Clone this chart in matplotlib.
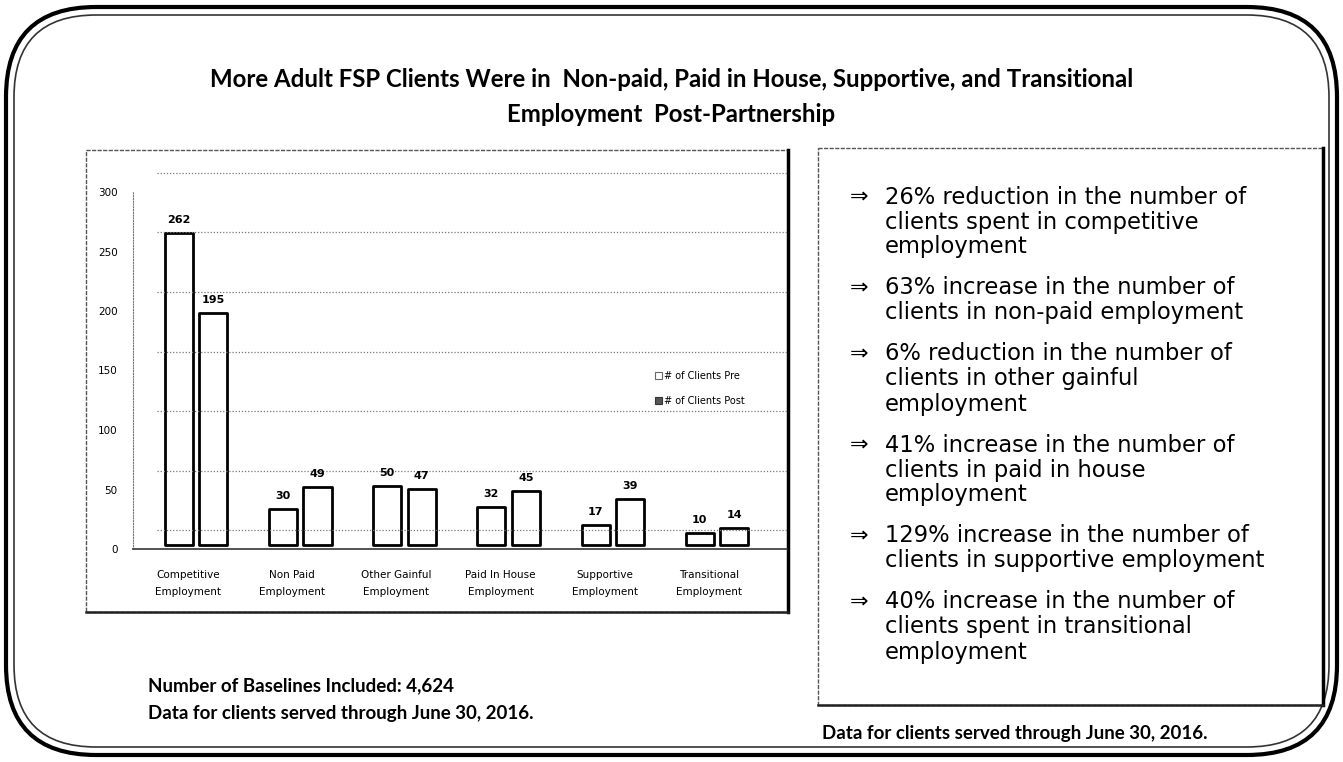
import matplotlib
matplotlib.use('Agg')
import matplotlib.pyplot as plt
from matplotlib.patches import FancyBboxPatch, Rectangle, Patch
from matplotlib.transforms import ScaledTranslation
import numpy as np

W, H = 1343, 762

# data
categories = ['Competitive\nEmployment', 'Non Paid\nEmployment', 'Other Gainful\nEmployment',
              'Paid In House\nEmployment', 'Supportive\nEmployment', 'Transitional\nEmployment']
clients_pre = [262, 30, 50, 32, 17, 10]
clients_post = [195, 49, 47, 45, 39, 14]
yticks = [0, 50, 100, 150, 200, 250, 300]

title = ('More Adult FSP Clients Were in  Non-paid, Paid in House, Supportive, and Transitional\n'
         'Employment  Post-Partnership')
bullets = [
    ['26% reduction in the number of', 'clients spent in competitive', 'employment'],
    ['63% increase in the number of', 'clients in non-paid employment'],
    ['6% reduction in the number of', 'clients in other gainful', 'employment'],
    ['41% increase in the number of', 'clients in paid in house', 'employment'],
    ['129% increase in the number of', 'clients in supportive employment'],
    ['40% increase in the number of', 'clients spent in transitional', 'employment'],
]
footer_left = ['Number of Baselines Included: 4,624', 'Data for clients served through June 30, 2016.']
footer_right = 'Data for clients served through June 30, 2016.'

fig = plt.figure(figsize=(W / 100, H / 100), dpi=100)

# background canvas in pixel coords
bg = fig.add_axes([0, 0, 1, 1])
bg.set_xlim(0, W)
bg.set_ylim(H, 0)
bg.axis('off')

# outer double rounded frame
bg.add_patch(FancyBboxPatch((6, 7), W - 12, H - 14, boxstyle='round,pad=0,rounding_size=90',
                            fill=False, lw=3, ec='black'))
bg.add_patch(FancyBboxPatch((14, 15), W - 28, H - 30, boxstyle='round,pad=0,rounding_size=82',
                            fill=False, lw=1.2, ec='#333333'))

bg.text(W / 2, 97, title, ha='center', va='center', fontsize=17.3, fontweight='bold',
        family='Lato', linespacing=1.6)

# chart box
bg.add_patch(Rectangle((86, 150), 702, 462, fill=False, lw=1.0, ec='#555555', ls=(0, (3, 1))))
bg.plot([788, 788], [150, 612], color='black', lw=2.5)
bg.plot([86, 788], [612, 612], color='#222222', lw=1.8)

# right text box
bg.add_patch(Rectangle((818, 148), 505, 557, fill=False, lw=1.0, ec='#555555', ls=(0, (3, 1))))
bg.plot([1323, 1323], [148, 705], color='black', lw=2.5)
bg.plot([818, 1323], [705, 705], color='#222222', lw=1.8)

y = 197
for lines in bullets:
    bg.text(850, y, '\u21d2', ha='left', va='center', fontsize=16, family='DejaVu Sans')
    for ln in lines:
        bg.text(885, y, ln, ha='left', va='center', fontsize=16.3, family='DejaVu Sans')
        y += 25
    y += 16

bg.text(148, 686, footer_left[0], ha='left', va='center', fontsize=13.5, fontweight='bold', family='Lato')
bg.text(148, 714, footer_left[1], ha='left', va='center', fontsize=13.5, fontweight='bold', family='Lato')
bg.text(1015, 733, footer_right, ha='center', va='center', fontsize=13.5, fontweight='bold', family='Lato')

# chart axes
left, right, top, bottom = 133, 787, 192, 549
ax = fig.add_axes([left / W, 1 - bottom / H, (right - left) / W, (bottom - top) / H])
ax.patch.set_alpha(0)
ax.set_xlim(-0.53, 5.75)
ax.set_ylim(0, 300)

x = np.arange(len(categories))
bar_off = ax.transData + ScaledTranslation(0.08, 0.04, fig.dpi_scale_trans)
grid_off = ax.transData + ScaledTranslation(0.0, 0.19, fig.dpi_scale_trans)

ax.hlines(yticks, -0.3, 5.75, colors='#777777', linestyles=(0, (1, 1.5)), lw=0.9,
          transform=grid_off, clip_on=False)

w = 0.27
b1 = ax.bar(x - 0.165, clients_pre, w, color='white', edgecolor='black', lw=2.0,
            label='# of Clients Pre', clip_on=False)
b2 = ax.bar(x + 0.165, clients_post, w, color='white', edgecolor='black', lw=2.0,
            label='# of Clients Post', clip_on=False)
for p in list(b1) + list(b2):
    p.set_transform(bar_off)
    p.set_joinstyle('round')

for xi, v in zip(x - 0.165, clients_pre):
    ax.annotate(str(v), (xi, v), xycoords=bar_off, xytext=(0, 8), textcoords='offset pixels',
                ha='center', va='bottom', fontsize=8, fontweight='bold')
for xi, v in zip(x + 0.165, clients_post):
    ax.annotate(str(v), (xi, v), xycoords=bar_off, xytext=(0, 8), textcoords='offset pixels',
                ha='center', va='bottom', fontsize=8, fontweight='bold')

ax.set_yticks(yticks)
ax.set_yticklabels([str(t) for t in yticks], fontsize=7.5)
ax.set_xticks(x)
ax.set_xticklabels(categories, fontsize=7.5, linespacing=1.9)
ax.tick_params(axis='y', length=0, pad=11)
ax.tick_params(axis='x', length=0, pad=15)
for s in ['top', 'right']:
    ax.spines[s].set_visible(False)
ax.spines['left'].set_linestyle((0, (1, 1.5)))
ax.spines['left'].set_color('#777777')
ax.spines['bottom'].set_linestyle((0, (2, 1)))
ax.spines['bottom'].set_color('#444444')
ax.spines['bottom'].set_linewidth(1.3)

leg_handles = [Patch(facecolor='white', edgecolor='#666666', lw=0.8),
               Patch(facecolor='#555555', edgecolor='#333333', lw=0.8)]
fig.legend(leg_handles, ['# of Clients Pre', '# of Clients Post'], loc='upper left',
           bbox_to_anchor=(646 / W, 1 - 362 / H), frameon=False, fontsize=7,
           handlelength=0.7, handleheight=0.7, handletextpad=0.3, labelspacing=1.6)

fig.savefig('out.png', dpi=100)
